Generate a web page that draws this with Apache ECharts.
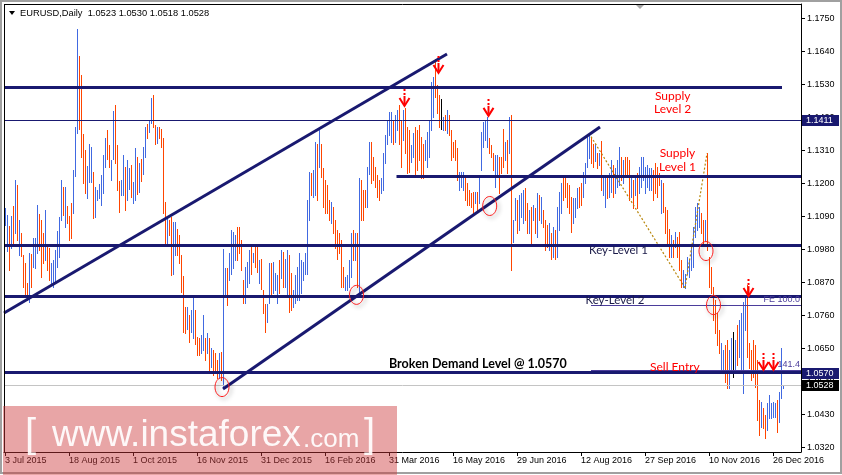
<!DOCTYPE html>
<html><head><meta charset="utf-8">
<script src="https://cdn.jsdelivr.net/npm/echarts@6/dist/echarts.min.js"></script>
<style>html,body{margin:0;padding:0;background:#fff;}#c{width:842px;height:475px;}</style>
</head><body><div id="c"></div>
<script>
// ---- data (EURUSD daily bars) ----
const highs = [
1.1117,1.1095,1.1060,1.1091,1.1125,1.1213,1.1194,1.1080,1.1034,1.0961,
1.0934,1.0867,1.0967,1.0965,1.1017,1.1017,1.1127,1.1098,1.1080,1.1034,
1.1111,1.0991,1.0984,1.0934,1.0945,1.0978,1.1043,1.1089,1.1213,1.1189,
1.1189,1.1125,1.1091,1.1136,1.1244,1.1389,1.1714,1.1624,1.1561,1.1364,
1.1311,1.1259,1.1331,1.1322,1.1239,1.1189,1.1178,1.1197,1.1228,1.1294,
1.1350,1.1378,1.1328,1.1278,1.1442,1.1461,1.1328,1.1208,1.1211,1.1294,
1.1256,1.1278,1.1250,1.1261,1.1206,1.1317,1.1289,1.1267,1.1283,1.1322,
1.1389,1.1398,1.1411,1.1486,1.1494,1.1394,1.1389,1.1389,1.1380,1.1350,
1.1139,1.1084,1.1078,1.1089,1.1072,1.1072,1.1050,1.1028,1.0961,1.0892,
1.0790,1.0790,1.0762,1.0778,1.0823,1.0778,1.0690,1.0687,1.0695,1.0762,
1.0684,1.0701,1.0684,1.0651,1.0645,1.0634,1.0612,1.0634,1.0640,1.0981,
1.0917,1.0917,1.0967,1.1045,1.1039,1.1028,1.1056,1.1056,1.1011,1.0878,
1.0923,1.0939,1.0978,1.0989,1.0967,1.0989,1.0989,1.0945,1.0950,1.0845,
1.0800,1.0800,1.0934,1.0934,1.0939,1.0901,1.0895,1.0945,1.0978,1.0973,
1.0950,1.0978,1.0961,1.0901,1.0845,1.0895,1.0923,1.0967,1.0945,1.0939,
1.0967,1.1145,1.1239,1.1234,1.1244,1.1339,1.1333,1.1383,1.1333,1.1250,
1.1211,1.1195,1.1145,1.1139,1.1122,1.1078,1.1045,1.1034,1.1011,1.0923,
1.0889,1.0895,1.0945,1.1034,1.1045,1.1034,1.1034,1.1217,1.1211,1.1178,
1.1178,1.1256,1.1339,1.1339,1.1289,1.1256,1.1228,1.1211,1.1217,1.1300,
1.1361,1.1411,1.1439,1.1439,1.1411,1.1428,1.1444,1.1461,1.1411,1.1444,
1.1450,1.1389,1.1378,1.1328,1.1367,1.1389,1.1378,1.1394,1.1356,1.1333,
1.1344,1.1372,1.1411,1.1539,1.1555,1.1615,1.1528,1.1494,1.1480,1.1422,
1.1428,1.1444,1.1428,1.1378,1.1339,1.1344,1.1317,1.1239,1.1239,1.1239,
1.1222,1.1200,1.1178,1.1167,1.1173,1.1173,1.1173,1.1222,1.1372,1.1406,
1.1411,1.1422,1.1350,1.1328,1.1300,1.1295,1.1295,1.1289,1.1289,1.1383,
1.1339,1.1345,1.1422,1.1427,1.1078,1.1150,1.1145,1.1161,1.1167,1.1178,
1.1184,1.1134,1.1111,1.1122,1.1128,1.1117,1.1167,1.1161,1.1156,1.1111,
1.1078,1.1062,1.1067,1.1034,1.1056,1.1045,1.1122,1.1173,1.1200,1.1217,
1.1228,1.1200,1.1195,1.1156,1.1150,1.1150,1.1184,1.1189,1.1200,1.1239,
1.1267,1.1361,1.1366,1.1356,1.1333,1.1330,1.1300,1.1300,1.1340,1.1225,
1.1222,1.1217,1.1234,1.1278,1.1261,1.1250,1.1278,1.1322,1.1289,1.1278,
1.1289,1.1289,1.1278,1.1217,1.1211,1.1228,1.1234,1.1256,1.1289,1.1289,
1.1256,1.1261,1.1250,1.1250,1.1245,1.1267,1.1256,1.1234,1.1211,1.1200,
1.1122,1.1111,1.1050,1.1028,1.1011,1.1039,1.1023,1.1039,1.0945,1.0912,
1.0900,1.0956,1.0945,1.0995,1.1056,1.1122,1.1134,1.1122,1.1100,1.1078,
1.1080,1.1300,1.0956,1.0923,1.0856,1.0812,1.0767,1.0712,1.0668,1.0646,
1.0662,1.0679,1.0646,1.0684,1.0706,1.0679,1.0729,1.0745,1.0768,1.0806,
1.0818,1.0862,1.0668,1.0646,1.0679,1.0662,1.0612,1.0479,1.0473,1.0451,
1.0429,1.0468,1.0495,1.0468,1.0473,1.0468,1.0479,1.0507,1.0651,1.0530];
const lows = [
1.1061,1.0975,1.0911,1.0984,1.0991,1.1034,1.1011,1.0961,1.0958,1.0856,
1.0823,1.0812,1.0806,1.0856,1.0923,1.0917,1.0967,1.0978,1.0889,1.0934,
1.0945,1.0911,1.0878,1.0867,1.0856,1.0867,1.0923,1.0956,1.1078,1.1095,
1.1056,1.1067,1.1011,1.1017,1.1100,1.1226,1.1367,1.1383,1.1289,1.1200,
1.1167,1.1153,1.1206,1.1206,1.1084,1.1089,1.1145,1.1153,1.1128,1.1167,
1.1256,1.1281,1.1256,1.1211,1.1283,1.1267,1.1178,1.1106,1.1161,1.1161,
1.1111,1.1145,1.1180,1.1156,1.1134,1.1145,1.1165,1.1172,1.1209,1.1233,
1.1289,1.1350,1.1372,1.1400,1.1389,1.1333,1.1336,1.1353,1.1322,1.1100,
1.0998,1.1000,1.1028,1.0895,1.0900,1.0961,1.0961,1.0934,1.0839,1.0706,
1.0701,1.0717,1.0673,1.0706,1.0684,1.0667,1.0629,1.0629,1.0634,1.0645,
1.0612,1.0634,1.0579,1.0590,1.0562,1.0568,1.0551,1.0551,1.0545,1.0524,
1.0823,1.0795,1.0878,1.0900,1.0917,1.0945,1.0945,1.0967,1.0911,1.0801,
1.0801,1.0856,1.0867,1.0900,1.0939,1.0923,1.0906,1.0867,1.0850,1.0767,
1.0706,1.0740,1.0801,1.0823,1.0834,1.0845,1.0801,1.0834,1.0884,1.0856,
1.0856,1.0823,1.0773,1.0778,1.0790,1.0801,1.0812,1.0812,1.0834,1.0878,
1.0900,1.0900,1.1078,1.1161,1.1156,1.1161,1.1145,1.1256,1.1222,1.1122,
1.1100,1.1100,1.1078,1.1067,1.1034,1.0984,1.0950,1.0967,1.0856,1.0856,
1.0845,1.0845,1.0856,1.0889,1.0945,1.0945,1.0856,1.0823,1.1078,1.1078,
1.1122,1.1122,1.1233,1.1200,1.1211,1.1189,1.1156,1.1145,1.1167,1.1178,
1.1267,1.1333,1.1361,1.1339,1.1333,1.1339,1.1378,1.1333,1.1256,1.1344,
1.1300,1.1234,1.1239,1.1272,1.1289,1.1222,1.1245,1.1278,1.1217,1.1217,
1.1278,1.1256,1.1289,1.1378,1.1422,1.1489,1.1433,1.1389,1.1383,1.1378,
1.1378,1.1367,1.1361,1.1278,1.1289,1.1278,1.1211,1.1178,1.1189,1.1178,
1.1145,1.1128,1.1128,1.1122,1.1100,1.1134,1.1112,1.1134,1.1245,1.1322,
1.1345,1.1322,1.1300,1.1289,1.1245,1.1189,1.1228,1.1167,1.1234,1.1256,
1.1278,1.1234,1.1300,1.0912,1.1006,1.1078,1.1034,1.1045,1.1089,1.1067,
1.1078,1.1034,1.1034,1.1000,1.1078,1.1034,1.1023,1.1078,1.1067,1.1056,
1.0978,1.0989,1.0978,1.0950,1.0956,1.0950,1.0956,1.1045,1.1100,1.1145,
1.1156,1.1123,1.1100,1.1040,1.1067,1.1089,1.1117,1.1123,1.1128,1.1156,
1.1200,1.1256,1.1284,1.1267,1.1256,1.1275,1.1250,1.1260,1.1178,1.1160,
1.1122,1.1150,1.1156,1.1173,1.1156,1.1167,1.1189,1.1195,1.1212,1.1200,
1.1222,1.1222,1.1145,1.1156,1.1117,1.1161,1.1117,1.1167,1.1189,1.1212,
1.1167,1.1189,1.1178,1.1178,1.1145,1.1167,1.1156,1.1195,1.1100,1.1106,
1.1034,1.1000,1.0956,1.0956,1.0956,1.0989,1.0956,1.0912,1.0856,1.0856,
1.0852,1.0900,1.0889,1.0912,1.0923,1.1023,1.1045,1.1056,1.1034,1.1000,
1.1010,1.0978,1.0856,1.0834,1.0745,1.0701,1.0662,1.0634,1.0568,1.0568,
1.0540,1.0518,1.0518,1.0579,1.0557,1.0579,1.0596,1.0623,1.0579,1.0501,
1.0712,1.0623,1.0584,1.0545,1.0557,1.0523,1.0412,1.0362,1.0390,1.0385,
1.0351,1.0379,1.0418,1.0418,1.0423,1.0423,1.0374,1.0407,1.0484,1.0518];
// 1 = up bar, -1 = down bar, 0 = unchanged
const dirs = [
1,1,-1,1,-1,1,-1,1,-1,-1, -1,-1,1,-1,1,1,1,-1,-1,-1, 1,-1,-1,1,1,1,1,1,1,-1,
1,-1,-1,-1,1,1,1,-1,-1,-1, -1,1,1,1,-1,1,1,1,1,1, 1,-1,-1,1,1,-1,-1,-1,1,1,
-1,1,1,-1,1,1,-1,1,-1,1, 1,-1,1,1,-1,-1,1,-1,-1,-1, -1,1,-1,-1,1,1,-1,-1,-1,-1,
-1,1,-1,1,1,-1,-1,-1,1,1, -1,1,-1,1,-1,-1,-1,1,-1,1, 1,-1,1,1,1,1,-1,-1,-1,-1,
1,1,1,-1,1,-1,-1,1,-1,-1, -1,1,1,-1,1,1,1,-1,1,-1, 1,1,-1,-1,1,1,1,1,1,1,
1,1,1,-1,1,1,-1,1,-1,-1, -1,-1,-1,1,-1,-1,-1,-1,-1,-1, 1,1,1,1,-1,1,-1,1,-1,-1,
-1,1,1,-1,-1,-1,-1,-1,1,1, 1,1,1,1,-1,1,1,-1,-1,1, -1,-1,-1,1,1,-1,-1,-1,-1,-1,
1,1,1,1,1,-1,-1,-1,0,1, -1,1,-1,-1,-1,-1,-1,1,1,1, -1,-1,-1,-1,-1,1,-1,1,1,1,
1,1,-1,-1,-1,1,1,-1,-1,-1, 1,-1,1,-1,1,1,-1,1,1,1, -1,-1,1,-1,1,-1,1,-1,1,-1,
-1,-1,1,-1,1,-1,1,1,1,-1, -1,-1,-1,-1,1,1,1,-1,-1,1, 1,1,1,-1,-1,1,-1,1,-1,1,
1,-1,1,1,-1,1,1,1,-1,1, -1,-1,-1,1,-1,1,-1,1,1,1, 1,1,1,1,-1,-1,-1,-1,1,-1,
-1,-1,-1,1,-1,1,-1,-1,-1,1, 1,1,1,1,1,1,1,1,-1,-1, 1,-1,-1,-1,-1,-1,-1,-1,1,1,
-1,-1,1,1,0,1,-1,1,1,1, 1,-1,-1,-1,-1,-1,-1,-1,1,-1, -1,1,1,1,1,1,-1,1,1,1];
const tickIndex = [0,32,64,96,128,160,192,224,256,288,320,352,384];
const tickLabels = ['3 Jul 2015','18 Aug 2015','1 Oct 2015','16 Nov 2015','31 Dec 2015','16 Feb 2016',
  '31 Mar 2016','16 May 2016','29 Jun 2016','12 Aug 2016','27 Sep 2016','10 Nov 2016','26 Dec 2016'];
const yTicks = [1.0320,1.0430,1.0540,1.0650,1.0760,1.0870,1.0980,1.1090,1.1200,1.1310,1.1420,1.1530,1.1640,1.1750];
const titleText = 'EURUSD,Daily  1.0523 1.0530 1.0518 1.0528';

// horizontal levels (price, first bar, last bar)
const levelNames  = ['last','fe100','fe141','r1411','supply2','supply1','key1','key2','demand'];
const levelPrices = [1.0528, 1.0792, 1.0577, 1.1411, 1.1521, 1.1222, 1.0995, 1.0825, 1.0570];
const levelFrom   = [-0.5, 293, 293, -0.5, -0.5, 195.75, -0.5, -0.5, -0.5];
const levelTo     = [398, 398, 398, 398, 388.5, 398, 398, 398, 398];
// trend lines: [bar1, price1, bar2, price2]
const trendLines = [[-0.5, 1.07687, 221, 1.16311], [109, 1.05156, 297.5, 1.13880]];
// fibo expansion points
const fiboPts = [[293, 1.1356], [340, 1.0852], [351, 1.1300]];
const circles = [[108.5, 1.0522], [175.75, 1.0829], [242.35, 1.1125], [350.5, 1.0975], [354.25, 1.0795]];
const arrows = [[199.25, 1.1458], [216.5, 1.1568], [241.35, 1.1425], [371.35, 1.0825], [379, 1.0579], [383.75, 1.0579]];
// axis price boxes
const boxPrices = [1.1411, 1.0570, 1.0528];
const boxKinds = ['navy', 'navy', 'black'];

const BLUE = '#4169E1', RED = '#FF4500', NAVY = '#191970', PURPLE = '#4B3D9B', GOLD = '#B8860B';
const LEVEL_STYLE = {
  last: {c: '#C4C4C4', w: 1}, fe100: {c: PURPLE, w: 1}, fe141: {c: PURPLE, w: 1}, r1411: {c: NAVY, w: 1},
  supply2: {c: NAVY, w: 3}, supply1: {c: NAVY, w: 3}, key1: {c: NAVY, w: 3}, key2: {c: NAVY, w: 3}, demand: {c: NAVY, w: 3}
};
const FONT_AX = "9px 'Liberation Sans', Arial, sans-serif";

function txt(x, y, text, font, fill, align, valign) {
  return {type: 'text', x: x, y: y, style: {text: text, font: font, fill: fill,
    align: align || 'left', textAlign: align || 'left', verticalAlign: valign || 'middle', textVerticalAlign: valign || 'middle'}};
}

function renderBars(params, api) {
  const i = api.value(0), lo = api.value(1), hi = api.value(2), d = api.value(3);
  const a = api.coord([i, hi]), b = api.coord([i, lo]);
  const x = Math.round(a[0]);
  const y1 = Math.round(a[1]), y2 = Math.round(b[1]);
  return {type: 'rect', shape: {x: x, y: y1, width: 1, height: Math.max(1, y2 - y1 + 1)},
    style: {fill: d > 0 ? BLUE : (d < 0 ? RED : '#000')}};
}

function renderAnno(params, api) {
  const P = (i, p) => api.coord([i, p]);
  const kids = [];
  const snap = (v, w) => (w % 2 === 1) ? Math.floor(v) + 0.5 : Math.round(v);
  // fibo dotted
  for (let k = 0; k < fiboPts.length - 1; k++) {
    const a = P(fiboPts[k][0], fiboPts[k][1]), b = P(fiboPts[k + 1][0], fiboPts[k + 1][1]);
    kids.push({type: 'line', shape: {x1: a[0], y1: a[1], x2: b[0], y2: b[1]},
      style: {stroke: GOLD, lineWidth: 1.2, lineDash: [2, 2]}});
  }
  // levels
  levelNames.forEach((n, k) => {
    const st = LEVEL_STYLE[n];
    const a = P(levelFrom[k], levelPrices[k]), b = P(levelTo[k], levelPrices[k]);
    const y = snap(a[1], st.w);
    kids.push({type: 'line', shape: {x1: a[0], y1: y, x2: b[0], y2: y}, style: {stroke: st.c, lineWidth: st.w}});
  });
  // trend lines
  trendLines.forEach(t => {
    const a = P(t[0], t[1]), b = P(t[2], t[3]);
    kids.push({type: 'line', shape: {x1: a[0], y1: a[1], x2: b[0], y2: b[1]}, style: {stroke: NAVY, lineWidth: 3}});
  });
  // circles
  circles.forEach(c => {
    const p = P(c[0], c[1]);
    kids.push({type: 'ellipse', shape: {cx: p[0], cy: p[1], rx: 7, ry: 9.5},
      style: {fill: 'none', stroke: '#FF2020', lineWidth: 1, shadowBlur: 4, shadowColor: 'rgba(0,0,0,0.45)', shadowOffsetX: 2, shadowOffsetY: 2}});
  });
  // arrows
  arrows.forEach(a0 => {
    const p = P(a0[0], a0[1]);
    const tx = Math.round(p[0]) + 0.5, ty = p[1];
    kids.push({type: 'line', shape: {x1: tx, y1: ty - 17, x2: tx, y2: ty - 10}, style: {stroke: '#FF0000', lineWidth: 2, lineDash: [2, 2]}});
    kids.push({type: 'polyline', shape: {points: [[tx - 5, ty - 8], [tx, ty], [tx + 5, ty - 8]]}, style: {stroke: '#FF0000', lineWidth: 2, fill: 'none'}});
    kids.push({type: 'line', shape: {x1: tx, y1: ty - 10, x2: tx, y2: ty - 2}, style: {stroke: '#FF0000', lineWidth: 2}});
  });
  // texts
  const T = (i, p, s, font, fill, align) => { const q = P(i, p); kids.push(txt(q[0], q[1], s, font, fill, align)); };
  T(333.85, 1.14913, 'Supply', "12px Lato, sans-serif", '#FF0000', 'center');
  T(333.85, 1.14480, 'Level 2', "12px Lato, sans-serif", '#FF0000', 'center');
  T(336.25, 1.12995, 'Supply', "12px Lato, sans-serif", '#FF0000', 'center');
  T(336.25, 1.12529, 'Level 1', "12px Lato, sans-serif", '#FF0000', 'center');
  T(292, 1.09785, 'Key-Level 1', "11.5px Lato, sans-serif", '#1A1A48', 'left');
  T(290.25, 1.08103, 'Key-Level 2', "11.5px Lato, sans-serif", '#1A1A48', 'left');
  T(397.5, 1.08119, 'FE 100.0', FONT_AX, PURPLE, 'right');
  T(397.5, 1.05971, '141.4', FONT_AX, PURPLE, 'right');
  T(322.5, 1.05899, 'Sell Entry', "12px Lato, sans-serif", '#FF0000', 'left');
  T(192, 1.06005, 'Broken Demand Level @ 1.0570', "bold 12.5px Lato, sans-serif", '#000', 'left');
  // axis price boxes
  boxPrices.forEach((bp, k) => {
    const q = P(398, bp);
    const y = Math.round(q[1]);
    kids.push({type: 'rect', shape: {x: 802, y: y - 5, width: 37, height: 11}, style: {fill: boxKinds[k] === 'navy' ? NAVY : '#000'}});
    kids.push(txt(806, y + 0.5, bp.toFixed(4), FONT_AX, '#fff', 'left'));
  });
  return {type: 'group', children: kids};
}

const chart = echarts.init(document.getElementById('c'), null, {renderer: 'canvas', width: 842, height: 475});
chart.setOption({
  animation: false,
  backgroundColor: '#fff',
  grid: {left: 4, top: 4, width: 797, height: 448, show: false},
  xAxis: {
    type: 'value', min: -0.5, max: 398,
    axisLine: {show: true, onZero: false, lineStyle: {color: '#000', width: 1}},
    axisTick: {show: true, length: 4, lineStyle: {color: '#000'}, customValues: tickIndex},
    axisLabel: {customValues: tickIndex, formatter: v => tickLabels[tickIndex.indexOf(Math.round(v))] || '',
      align: 'left', margin: 4, color: '#000', fontSize: 9, fontFamily: "'Liberation Sans', Arial, sans-serif"},
    splitLine: {show: false}
  },
  yAxis: {
    type: 'value', position: 'right', min: 1.03058, max: 1.17976,
    axisLine: {show: true, onZero: false, lineStyle: {color: '#000', width: 1}},
    axisTick: {show: true, length: 4, lineStyle: {color: '#000'}, customValues: yTicks},
    axisLabel: {customValues: yTicks, formatter: v => Number(v).toFixed(4), margin: 6, color: '#000',
      fontSize: 9, fontFamily: "'Liberation Sans', Arial, sans-serif"},
    splitLine: {show: false}
  },
  series: [
    {type: 'custom', name: 'bars', renderItem: renderBars, data: highs.map((h, i) => [i, lows[i], h, dirs[i]]),
      encode: {x: 0, y: [1, 2]}, silent: true, z: 2},
    {type: 'custom', name: 'anno', renderItem: renderAnno, data: [[0, 1.1]], clip: false, silent: true, z: 3}
  ],
  graphic: [
    {type: 'rect', shape: {x: 1, y: 1, width: 840, height: 472}, style: {fill: 'none', stroke: '#A0A0A0', lineWidth: 2}, z: 50},
    {type: 'line', shape: {x1: 4.5, y1: 4, x2: 4.5, y2: 452}, style: {stroke: '#000', lineWidth: 1}, z: 50},
    {type: 'line', shape: {x1: 4, y1: 4.5, x2: 801, y2: 4.5}, style: {stroke: '#000', lineWidth: 1}, z: 50},
    {type: 'polygon', shape: {points: [[636, 5], [644, 5], [640, 9]]}, style: {fill: '#A8A8A8'}, z: 50},
    {type: 'polygon', shape: {points: [[9, 11], [15, 11], [12, 15]]}, style: {fill: '#000'}, z: 50},
    Object.assign(txt(20, 13, titleText, "9.3px 'Liberation Sans', Arial, sans-serif", '#000', 'left'), {z: 50}),
    {type: 'rect', shape: {x: 3, y: 406, width: 394, height: 69}, style: {fill: 'rgba(204,55,57,0.45)'}, z: 60},
    Object.assign(txt(25, 436, '[', "40px 'Liberation Sans', Arial, sans-serif", 'rgba(255,255,255,0.92)', 'left'), {z: 61}),
    Object.assign(txt(52, 435.5, 'www.instaforex', "37px 'Liberation Sans', Arial, sans-serif", 'rgba(255,255,255,0.92)', 'left'), {z: 61}),
    Object.assign(txt(303, 439.5, '.com', "26px 'Liberation Sans', Arial, sans-serif", 'rgba(255,255,255,0.92)', 'left'), {z: 61}),
    Object.assign(txt(364, 436, ']', "40px 'Liberation Sans', Arial, sans-serif", 'rgba(255,255,255,0.92)', 'left'), {z: 61})
  ]
});
</script>
</body></html>
